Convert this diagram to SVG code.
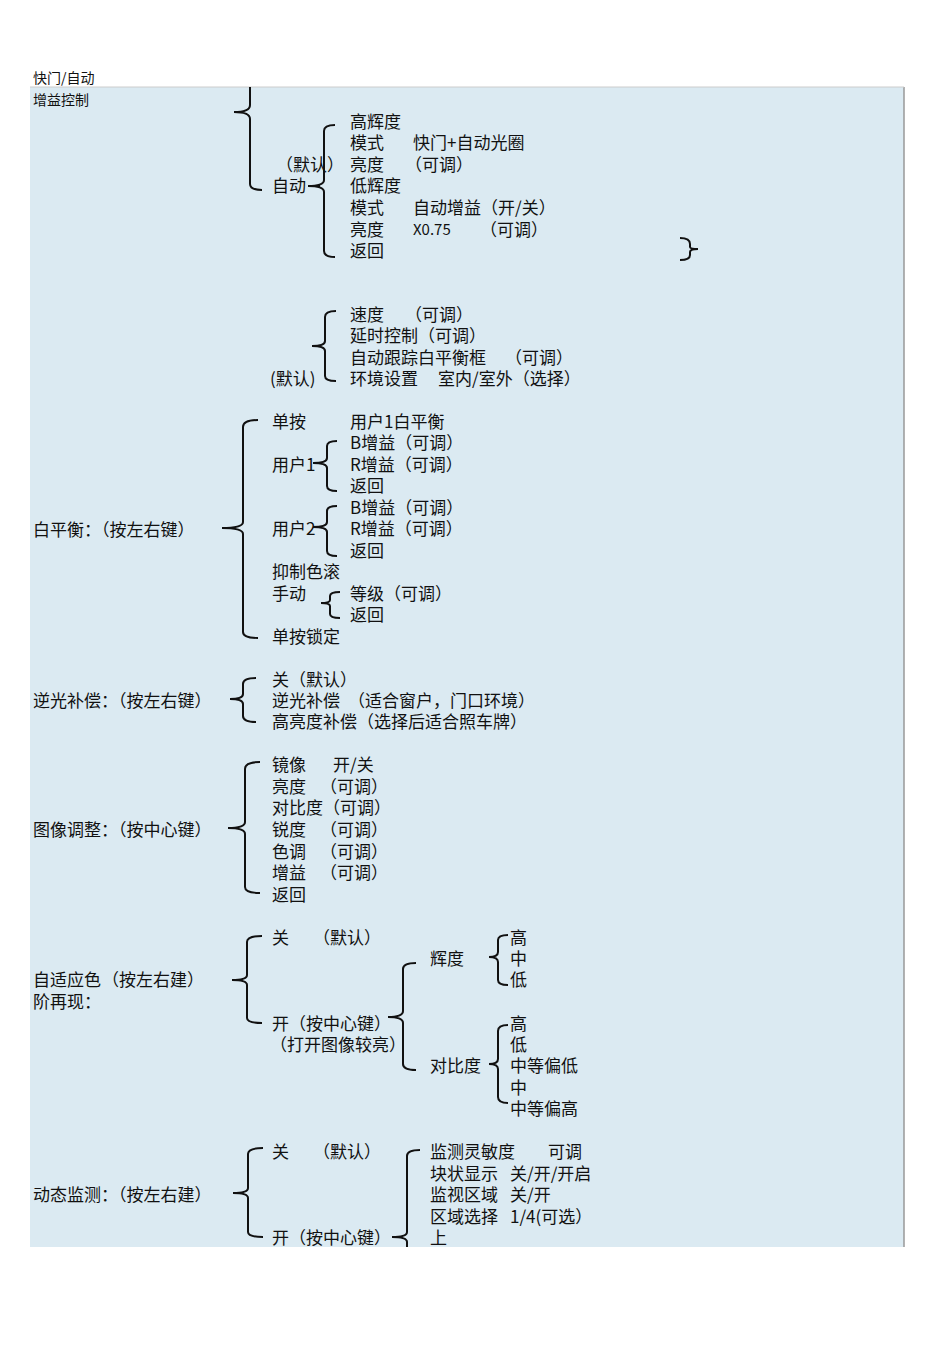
<svg xmlns="http://www.w3.org/2000/svg" width="950" height="1345" viewBox="0 0 950 1345">
<style>
text{font-family:"Noto Sans CJK SC","Liberation Serif",serif;font-size:17px;fill:#111;dominant-baseline:central}
.s{font-size:14px}
.b{fill:none;stroke:#111;stroke-width:2}
</style>
<rect width="950" height="1345" fill="#fff"/>
<rect x="30" y="87" width="874" height="1160" fill="#dbeaf2"/>
<line x1="904" y1="87" x2="904" y2="1247" stroke="#999" stroke-width="1.5"/>
<line x1="30" y1="87" x2="904" y2="87" stroke="#ccc" stroke-width="1"/>
<g id="connectors">
<path class="b" d="M250 87 V105 Q250 112 234 112 Q250 112 250 119 V184 Q250 190 262 190"/>
<path class="b" d="M335 125 Q324 125 324 131 V180 Q324 186 308 186 Q324 186 324 192 V251 Q324 257 335 257"/>
<path class="b" d="M680 238 Q690 238 690 244 V247 Q690 249 698 249 Q690 249 690 252 V255 Q690 260 680 260"/>
<path class="b" d="M336 311 Q325 311 325 317 V341 Q325 346 312 346 Q325 346 325 351 V376 Q325 381 336 381"/>
<path class="b" d="M258 420 Q243 420 243 427 V522 Q243 528 222 528 Q243 528 243 534 V632 Q243 638 258 638"/>
<path class="b" d="M337 441 Q327 441 327 446 V458 Q327 463 313 463 Q327 463 327 468 V486 Q327 491 337 491"/>
<path class="b" d="M337 506 Q327 506 327 511 V522 Q327 527 313 527 Q327 527 327 532 V551 Q327 556 337 556"/>
<path class="b" d="M340 592 Q330 592 330 596 V600 Q330 603 321 603 Q330 603 330 606 V614 Q330 618 340 618"/>
<path class="b" d="M256 678 Q243 678 243 684 V694 Q243 699 230 699 Q243 699 243 704 V716 Q243 722 256 722"/>
<path class="b" d="M260 762 Q245 762 245 769 V822 Q245 828 228 828 Q245 828 245 834 V887 Q245 893 260 893"/>
<path class="b" d="M262 936 Q247 936 247 942 V975 Q247 980 232 980 Q247 980 247 985 V1018 Q247 1023 262 1023"/>
<path class="b" d="M416 963 Q403 963 403 969 V1011 Q403 1017 388 1017 Q403 1017 403 1023 V1064 Q403 1070 416 1070"/>
<path class="b" d="M508 935 Q498 935 498 940 V952 Q498 957 489 957 Q498 957 498 962 V980 Q498 985 508 985"/>
<path class="b" d="M508 1025 Q498 1025 498 1031 V1059 Q498 1064 489 1064 Q498 1064 498 1069 V1097 Q498 1103 508 1103"/>
<path class="b" d="M263 1148 Q248 1148 248 1154 V1188 Q248 1193 233 1193 Q248 1193 248 1198 V1232 Q248 1237 263 1237"/>
<path class="b" d="M420 1150 Q407 1150 407 1156 V1232 Q407 1237 392 1237 Q407 1237 407 1242 V1247"/>
<path class="b" d="M310 186 H320"/>
</g>
<g id="top">
<text class="s" x="33" y="77">快门/自动</text>
<text class="s" x="33" y="99">增益控制</text>
</g>
<g id="gain">
<text x="350" y="120">高辉度</text>
<text x="350" y="141">模式</text><text x="413" y="141">快门+自动光圈</text>
<text x="276" y="163">（默认）</text>
<text x="350" y="163">亮度</text><text x="405" y="163">（可调）</text>
<text x="272" y="184">自动</text>
<text x="350" y="184">低辉度</text>
<text x="350" y="206">模式</text><text x="413" y="206">自动增益（开/关）</text>
<text x="350" y="228">亮度</text><text x="413" y="228" style="font-size:15px">X0.75</text><text x="480" y="228">（可调）</text>
<text x="350" y="249">返回</text>
</g>
<g id="track">
<text x="350" y="313">速度</text><text x="405" y="313">（可调）</text>
<text x="350" y="334">延时控制（可调）</text>
<text x="350" y="356">自动跟踪白平衡框</text><text x="505" y="356">（可调）</text>
<text x="270" y="377">(默认)</text>
<text x="350" y="377">环境设置</text><text x="438" y="377">室内/室外（选择）</text>
</g>
<g id="wb">
<text x="33" y="528">白平衡：（按左右键）</text>
<text x="272" y="420">单按</text><text x="350" y="420">用户1白平衡</text>
<text x="350" y="441">B增益（可调）</text>
<text x="272" y="463">用户1</text><text x="350" y="463">R增益（可调）</text>
<text x="350" y="484">返回</text>
<text x="350" y="506">B增益（可调）</text>
<text x="272" y="527">用户2</text><text x="350" y="527">R增益（可调）</text>
<text x="350" y="549">返回</text>
<text x="272" y="570">抑制色滚</text>
<text x="272" y="592">手动</text><text x="350" y="592">等级（可调）</text>
<text x="350" y="613">返回</text>
<text x="272" y="635">单按锁定</text>
</g>
<g id="blc">
<text x="33" y="699">逆光补偿：（按左右键）</text>
<text x="272" y="678">关（默认）</text>
<text x="272" y="699">逆光补偿</text><text x="348" y="699">（适合窗户，门口环境）</text>
<text x="272" y="720">高亮度补偿（选择后适合照车牌）</text>
</g>
<g id="image">
<text x="33" y="828">图像调整：（按中心键）</text>
<text x="272" y="763">镜像</text><text x="333" y="763">开/关</text>
<text x="272" y="785">亮度</text><text x="320" y="785">（可调）</text>
<text x="272" y="806">对比度（可调）</text>
<text x="272" y="828">锐度</text><text x="320" y="828">（可调）</text>
<text x="272" y="850">色调</text><text x="320" y="850">（可调）</text>
<text x="272" y="871">增益</text><text x="320" y="871">（可调）</text>
<text x="272" y="893">返回</text>
</g>
<g id="adaptive">
<text x="33" y="978">自适应色</text><text x="102" y="978">（按左右建）</text>
<text x="33" y="1000">阶再现：</text>
<text x="272" y="936">关</text><text x="313" y="936">（默认）</text>
<text x="272" y="1022">开（按中心键）</text>
<text x="270" y="1043">（打开图像较亮）</text>
<text x="430" y="957">辉度</text>
<text x="430" y="1064">对比度</text>
<text x="510" y="936">高</text><text x="510" y="957">中</text><text x="510" y="978">低</text>
<text x="510" y="1022">高</text><text x="510" y="1043">低</text><text x="510" y="1064">中等偏低</text><text x="510" y="1086">中</text><text x="510" y="1107">中等偏高</text>
</g>
<g id="motion">
<text x="33" y="1193">动态监测：（按左右建）</text>
<text x="272" y="1150">关</text><text x="313" y="1150">（默认）</text>
<text x="272" y="1236">开（按中心键）</text>
<text x="430" y="1150">监测灵敏度</text><text x="548" y="1150">可调</text>
<text x="430" y="1172">块状显示</text><text x="510" y="1172">关/开/开启</text>
<text x="430" y="1193">监视区域</text><text x="510" y="1193">关/开</text>
<text x="430" y="1215">区域选择</text><text x="510" y="1215">1/4(可选）</text>
<text x="430" y="1236">上</text>
</g>
</svg>
